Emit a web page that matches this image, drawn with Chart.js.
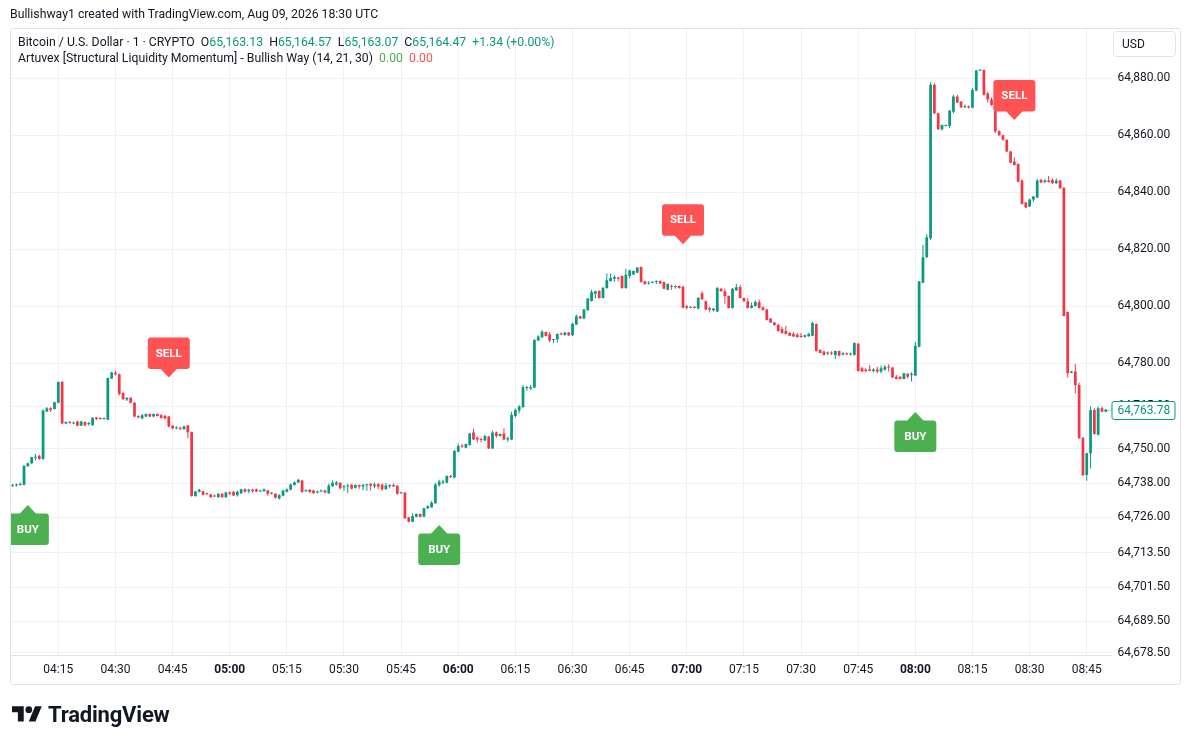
<!DOCTYPE html>
<html><head><meta charset="utf-8">
<script src="https://cdn.jsdelivr.net/npm/chart.js@4.4.1/dist/chart.umd.min.js"></script>
<style>
html,body{margin:0;padding:0;background:#fff;}
body{width:1191px;height:745px;position:relative;overflow:hidden;font-family:Roboto,"Noto Sans",sans-serif;color:#131722;}
#c{position:absolute;left:0;top:0;}
.t{position:absolute;white-space:nowrap;font-size:12.25px;line-height:16px;}
.g{color:#089981}
.ig{color:#4caf50}
.ir{color:#ff5252}
#usd{position:absolute;left:1113px;top:31px;border:1px solid #e0e3eb;border-radius:4px;font-size:12px;line-height:24px;padding-left:8px;box-sizing:border-box;width:63px;height:26px;}
#logo{position:absolute;left:11.7px;top:703.3px;width:30.2px;height:23.5px;}
#logotext{position:absolute;left:48px;top:703.8px;font-size:22px;line-height:22px;font-weight:700;white-space:nowrap;letter-spacing:-0.2px;}
</style></head><body>
<canvas id="c" width="1191" height="745"></canvas>
<div class="t" style="left:10px;top:6px">Bullishway1 created with TradingView.com, Aug 09, 2026 18:30 UTC</div>
<div class="t" style="left:18px;top:34px">Bitcoin / U.S. Dollar · 1 · CRYPTO&nbsp; O<span class="g">65,163.13</span>&nbsp; H<span class="g">65,164.57</span>&nbsp; L<span class="g">65,163.07</span>&nbsp; C<span class="g">65,164.47</span>&nbsp; <span class="g">+1.34 (+0.00%)</span></div>
<div class="t" style="left:18px;top:50px">Artuvex [Structural Liquidity Momentum] - Bullish Way (14, 21, 30)&nbsp; <span class="ig">0.00</span>&nbsp; <span class="ir">0.00</span></div>
<div id="usd">USD</div>
<svg id="logo" viewBox="0 0 36 28"><path fill="#131722" d="M14 22H7V11H0V4h14v18zM28 22h-8l7.5-18h8L28 22z"/><circle fill="#131722" cx="20" cy="8" r="4"/></svg>
<div id="logotext">TradingView</div>
<script>
// ---- time categories (1-minute slots) ----
const startMinutes = 4 * 60 + 3;   // 04:03
const slotCount = 289;             // 04:03 .. 08:51
const categories = [];
for (let k = 0; k < slotCount; k++) {
  const t = startMinutes + k;
  categories.push(String(Math.floor(t / 60)).padStart(2, '0') + ':' + String(t % 60).padStart(2, '0'));
}
const xTickLabels = ['04:15','04:30','04:45','05:00','05:15','05:30','05:45','06:00','06:15','06:30','06:45','07:00','07:15','07:30','07:45','08:00','08:15','08:30','08:45'];
const xBoldLabels = ['05:00','06:00','07:00','08:00'];
const yTicks = [64880, 64860, 64840, 64820, 64800, 64780, 64765, 64750, 64738, 64726, 64713.5, 64701.5, 64689.5, 64678.5];

// ---- OHLC series (04:03 .. 08:50) ----
const opens = [
64737.0,64737.1,64737.3,64737.4,64743.9,64744.9,64746.9,64747.6,64746.4,64763.1,64764.2,64764.0,
64766.2,64773.4,64758.9,64759.4,64758.9,64759.6,64758.1,64759.4,64758.7,64758.3,64761.0,64760.8,
64760.5,64760.2,64774.7,64776.7,64776.2,64769.6,64767.3,64767.9,64766.2,64761.5,64760.6,64761.3,
64762.2,64761.3,64762.2,64761.8,64761.6,64761.3,64758.1,64757.1,64757.3,64756.9,64758.2,64755.8,
64733.4,64734.9,64735.1,64734.4,64734.0,64733.5,64733.0,64734.2,64733.0,64734.7,64734.9,64733.7,
64734.4,64735.8,64735.1,64735.6,64735.8,64735.0,64735.1,64735.4,64734.6,64734.2,64732.6,64733.5,
64734.9,64735.6,64737.3,64738.2,64738.9,64735.1,64735.6,64735.4,64734.7,64735.0,64735.4,64734.4,
64736.9,64737.5,64738.1,64736.5,64736.8,64737.4,64736.3,64737.3,64736.8,64737.2,64737.7,64736.9,
64737.6,64737.4,64735.8,64736.9,64737.3,64737.0,64734.4,64734.6,64726.0,64724.4,64726.2,64727.1,
64726.2,64729.1,64729.5,64730.9,64737.3,64738.1,64738.1,64740.5,64739.9,64749.0,64751.1,64750.4,
64751.3,64755.7,64753.9,64753.4,64752.9,64754.3,64750.1,64755.7,64754.5,64755.4,64753.3,64753.3,
64761.5,64763.4,64764.6,64771.3,64771.2,64771.5,64788.0,64789.1,64791.0,64790.2,64788.2,64788.4,
64790.4,64789.9,64790.8,64789.8,64793.6,64796.5,64795.7,64798.6,64801.9,64804.4,64805.4,64802.9,
64806.4,64808.9,64809.7,64810.1,64810.6,64806.4,64810.6,64811.2,64811.8,64813.8,64808.8,64808.0,
64808.3,64808.5,64808.9,64808.5,64805.8,64807.1,64806.8,64807.1,64806.9,64800.1,64799.5,64799.8,
64799.2,64804.6,64801.8,64799.4,64798.6,64798.2,64806.2,64805.3,64803.6,64799.4,64805.6,64806.8,
64802.9,64801.8,64799.4,64800.1,64801.5,64799.7,64798.9,64795.7,64794.3,64793.4,64792.0,64791.3,
64790.7,64790.3,64790.1,64789.7,64789.3,64789.5,64789.7,64793.8,64784.7,64784.1,64783.4,64783.7,
64782.9,64784.3,64783.1,64783.5,64783.1,64782.9,64786.9,64778.3,64777.7,64777.9,64777.3,64777.8,
64777.1,64777.7,64778.8,64778.5,64775.3,64775.3,64774.5,64776.3,64775.9,64775.7,64785.8,64808.3,
64817.2,64823.9,64877.7,64867.7,64862.1,64863.3,64863.3,64868.3,64873.6,64871.8,64869.8,64870.1,
64869.7,64875.7,64882.7,64882.9,64874.7,64872.6,64870.6,64861.5,64860.0,64858.4,64854.3,64850.8,
64849.9,64844.1,64836.4,64835.0,64837.5,64838.2,64844.3,64843.6,64844.1,64844.3,64843.2,64844.1,
64841.6,64798.0,64776.7,64777.1,64772.4,64753.9,64740.8,64748.4,64763.6,64754.9,64764.2,64763.0
];
const highs = [
64737.6,64737.8,64738.2,64744.3,64745.1,64747.2,64748.2,64747.8,64763.9,64764.7,64764.6,64766.5,
64773.6,64773.8,64759.6,64759.7,64759.5,64759.8,64759.8,64759.6,64759.4,64761.1,64761.2,64761.1,
64761.0,64775.0,64777.0,64777.4,64776.4,64769.8,64768.2,64768.1,64766.4,64761.8,64762.2,64762.4,
64762.4,64762.4,64762.4,64762.2,64761.8,64761.5,64758.3,64757.9,64757.7,64758.1,64758.4,64756.0,
64735.2,64736.0,64735.3,64734.6,64734.2,64734.0,64734.4,64734.4,64734.9,64735.1,64735.1,64735.4,
64736.0,64736.2,64736.0,64736.0,64736.1,64735.6,64736.1,64735.6,64734.8,64734.4,64734.1,64735.6,
64736.1,64737.7,64738.5,64739.4,64739.1,64735.8,64735.8,64735.6,64735.4,64735.7,64735.6,64737.7,
64738.9,64738.7,64738.3,64737.3,64737.7,64737.6,64737.5,64737.5,64737.6,64737.7,64737.9,64738.2,
64738.0,64737.8,64737.9,64737.6,64737.8,64737.2,64734.8,64734.8,64726.2,64727.4,64727.3,64727.3,
64729.3,64730.1,64731.7,64738.1,64739.1,64739.1,64740.7,64740.8,64749.6,64751.9,64751.7,64751.9,
64755.6,64757.0,64754.3,64753.9,64754.9,64754.5,64756.3,64756.1,64755.4,64757.2,64754.3,64763.0,
64764.1,64765.4,64772.4,64772.0,64772.4,64788.4,64789.8,64791.7,64791.2,64791.0,64788.6,64790.5,
64790.8,64791.0,64791.0,64794.2,64797.1,64796.7,64799.1,64802.9,64805.8,64805.5,64805.6,64806.7,
64811.5,64811.5,64810.9,64810.3,64810.8,64813.2,64812.8,64812.6,64813.8,64814.0,64809.0,64808.8,
64808.7,64809.1,64809.1,64808.7,64808.0,64807.6,64807.4,64807.3,64807.1,64800.4,64800.0,64800.0,
64803.3,64805.3,64802.0,64799.8,64799.4,64806.7,64806.4,64806.2,64803.8,64806.4,64807.9,64807.6,
64803.1,64802.9,64801.3,64802.0,64802.4,64799.9,64799.1,64795.9,64794.5,64794.0,64792.8,64793.1,
64790.9,64791.0,64790.6,64790.6,64790.1,64790.7,64794.5,64794.0,64784.9,64784.3,64784.1,64784.2,
64784.5,64784.5,64784.0,64783.8,64783.8,64787.3,64787.1,64778.8,64778.3,64779.4,64778.3,64778.8,
64779.2,64779.4,64779.7,64778.7,64775.9,64775.5,64776.7,64776.5,64776.9,64787.6,64808.9,64821.5,
64825.4,64878.6,64878.2,64867.9,64863.8,64863.7,64868.9,64874.2,64874.2,64872.0,64870.8,64870.5,
64876.5,64882.9,64883.2,64883.1,64875.3,64873.3,64870.8,64861.7,64860.2,64858.6,64854.5,64852.3,
64850.1,64844.6,64836.6,64837.7,64838.7,64844.7,64844.8,64844.7,64845.7,64844.9,64844.8,64844.3,
64841.8,64798.2,64777.3,64779.8,64773.2,64754.1,64748.6,64764.8,64764.2,64764.8,64764.8,64764.0
];
const lows = [
64736.6,64736.8,64737.0,64737.1,64743.7,64744.7,64746.0,64746.2,64746.2,64762.9,64762.9,64763.8,
64766.0,64758.7,64758.7,64758.8,64758.6,64758.0,64758.0,64757.9,64758.1,64758.1,64760.1,64760.2,
64760.3,64760.0,64774.5,64775.7,64768.7,64767.2,64766.8,64766.0,64761.1,64760.6,64760.4,64761.1,
64761.1,64761.1,64761.3,64760.6,64760.4,64757.6,64756.9,64756.9,64756.5,64756.7,64753.8,64733.2,
64733.2,64734.7,64733.7,64733.7,64732.8,64733.1,64732.8,64732.8,64732.8,64733.7,64733.4,64733.3,
64734.2,64734.7,64734.4,64734.7,64734.8,64734.9,64734.9,64733.5,64734.0,64732.6,64732.2,64733.3,
64734.7,64735.4,64737.1,64738.0,64734.6,64734.9,64734.6,64734.2,64734.3,64734.8,64734.4,64734.2,
64736.7,64737.0,64735.7,64735.3,64734.5,64735.8,64736.1,64736.0,64735.5,64735.3,64735.5,64736.2,
64735.8,64735.3,64735.6,64736.2,64736.6,64733.9,64734.2,64725.4,64724.2,64724.2,64726.0,64726.0,
64726.0,64728.9,64729.3,64730.7,64736.7,64737.6,64737.9,64739.8,64739.7,64748.8,64750.3,64750.2,
64751.1,64753.1,64752.2,64752.2,64752.7,64749.9,64749.9,64753.9,64754.3,64753.1,64752.5,64753.1,
64761.0,64762.5,64764.4,64770.4,64770.6,64771.3,64787.8,64788.9,64789.4,64787.4,64787.0,64787.2,
64789.8,64789.7,64789.6,64789.6,64793.4,64795.5,64795.5,64798.4,64801.7,64802.7,64802.7,64802.7,
64806.2,64808.7,64808.5,64808.8,64806.2,64806.2,64809.7,64811.0,64811.6,64808.3,64807.6,64807.6,
64808.1,64807.8,64807.8,64806.0,64805.6,64805.7,64806.2,64806.2,64799.3,64798.9,64799.3,64799.2,
64799.0,64802.3,64798.7,64797.8,64798.2,64798.0,64805.1,64800.9,64799.2,64799.2,64805.4,64802.7,
64801.6,64799.2,64799.2,64799.9,64799.2,64798.5,64795.0,64794.1,64793.2,64791.1,64790.4,64790.1,
64789.5,64789.2,64789.0,64789.0,64789.0,64789.3,64789.5,64784.1,64783.4,64782.7,64782.9,64782.9,
64781.5,64782.5,64782.7,64782.9,64782.7,64782.7,64777.1,64776.9,64776.9,64777.2,64776.9,64776.5,
64776.5,64777.5,64777.1,64774.8,64774.3,64774.3,64774.3,64774.7,64773.6,64775.5,64785.6,64808.1,
64817.0,64823.3,64867.5,64861.9,64861.6,64863.1,64862.5,64867.7,64871.3,64869.6,64869.6,64869.4,
64869.5,64875.5,64882.5,64874.0,64871.5,64870.4,64860.7,64859.8,64858.2,64854.1,64850.2,64849.4,
64843.5,64835.7,64834.4,64834.8,64836.7,64838.0,64843.2,64843.2,64843.4,64843.0,64843.0,64841.2,
64796.4,64775.0,64776.5,64769.5,64753.5,64740.5,64738.8,64743.1,64755.0,64754.7,64762.8,64762.8
];
const closes = [
64737.3,64737.4,64737.6,64744.0,64744.9,64747.0,64747.2,64746.4,64763.4,64764.2,64763.6,64766.3,
64773.4,64758.9,64759.4,64759.1,64759.2,64758.1,64759.6,64758.3,64759.0,64760.9,64760.5,64760.5,
64760.8,64774.8,64776.8,64776.2,64769.2,64767.4,64767.8,64766.2,64761.3,64761.1,64761.8,64762.2,
64761.3,64762.2,64761.5,64760.8,64760.6,64757.8,64757.1,64757.4,64757.0,64757.9,64755.8,64733.4,
64735.0,64735.6,64733.9,64734.1,64733.0,64733.3,64734.2,64733.0,64734.7,64734.2,64733.6,64734.9,
64735.8,64734.9,64735.6,64735.1,64735.0,64735.3,64735.8,64734.2,64734.2,64732.8,64733.7,64735.4,
64735.8,64737.5,64738.3,64739.1,64734.8,64735.5,64734.8,64734.4,64735.0,64735.4,64734.7,64737.1,
64738.1,64738.2,64736.2,64736.8,64737.1,64736.0,64737.3,64736.8,64737.4,64737.5,64737.0,64737.5,
64736.8,64735.8,64737.1,64737.3,64736.8,64734.2,64734.6,64725.6,64724.4,64726.4,64727.1,64726.2,
64729.1,64729.9,64731.1,64737.5,64738.5,64738.5,64740.5,64740.0,64749.2,64751.0,64750.8,64751.7,
64755.4,64753.3,64753.3,64753.1,64754.5,64750.1,64755.7,64754.5,64755.2,64753.3,64753.7,64761.9,
64763.6,64764.8,64771.6,64771.6,64771.6,64788.2,64789.4,64791.1,64789.6,64788.0,64788.4,64790.3,
64790.1,64790.8,64789.8,64793.9,64796.5,64795.7,64798.9,64802.7,64805.0,64805.3,64802.9,64806.5,
64809.1,64809.9,64810.3,64809.7,64806.4,64811.1,64812.6,64812.4,64813.6,64808.5,64807.8,64808.3,
64808.5,64808.9,64808.0,64806.2,64807.8,64806.9,64807.0,64806.4,64799.5,64799.5,64799.8,64799.4,
64802.9,64802.5,64798.9,64798.9,64799.2,64806.5,64805.3,64803.6,64799.4,64806.2,64806.7,64802.9,
64801.8,64799.4,64800.3,64801.5,64799.4,64798.7,64795.2,64794.3,64793.4,64791.3,64790.6,64790.3,
64789.7,64789.4,64789.2,64789.2,64789.8,64790.3,64794.1,64784.3,64783.6,64782.9,64783.7,64783.4,
64784.3,64782.7,64783.5,64783.1,64783.4,64787.1,64777.3,64777.1,64777.3,64777.4,64777.8,64777.1,
64778.3,64778.8,64778.5,64775.0,64774.5,64774.5,64776.5,64775.3,64776.3,64786.2,64808.7,64817.2,
64824.2,64877.7,64867.7,64862.1,64863.6,64863.5,64868.7,64873.6,64871.5,64869.8,64870.1,64869.7,
64875.9,64882.7,64882.9,64874.2,64872.6,64870.6,64861.3,64860.0,64858.4,64854.3,64850.4,64849.6,
64843.7,64835.9,64834.7,64837.5,64838.5,64844.1,64843.4,64844.1,64843.6,64843.2,64844.1,64841.4,
64796.6,64776.5,64777.1,64772.4,64753.7,64740.7,64748.4,64763.6,64755.2,64764.2,64763.0,64763.78
];
const lastPrice = 64763.78;

// ---- indicator signals (time, arrow-tip price) ----
const buyTimes = ['04:07', '05:55', '08:00'];
const buyPrices = [64730.3, 64723.3, 64762.9];
const sellTimes = ['04:44', '06:59', '08:26'];
const sellPrices = [64775.0, 64821.75, 64865.4];

// ---- styles ----
const UP = '#089981', DOWN = '#f23645';
const GRID = '#f0f0f2';
const candleColors = closes.map((c, i) => c >= opens[i] ? UP : DOWN);
const fmt = v => Number(v).toLocaleString('en-US', {minimumFractionDigits: 2, maximumFractionDigits: 2});

function roundRect(ctx, x, y, w, h, r) {
  ctx.beginPath();
  ctx.moveTo(x + r, y);
  ctx.lineTo(x + w - r, y); ctx.quadraticCurveTo(x + w, y, x + w, y + r);
  ctx.lineTo(x + w, y + h - r); ctx.quadraticCurveTo(x + w, y + h, x + w - r, y + h);
  ctx.lineTo(x + r, y + h); ctx.quadraticCurveTo(x, y + h, x, y + h - r);
  ctx.lineTo(x, y + r); ctx.quadraticCurveTo(x, y, x + r, y);
  ctx.closePath();
}

const bgPlugin = {
  id: 'bg',
  beforeDraw(chart) {
    const c = chart.ctx;
    c.save(); c.fillStyle = '#fff'; c.fillRect(0, 0, chart.width, chart.height); c.restore();
  }
};

const overlayPlugin = {
  id: 'overlay',
  afterDatasetsDraw(chart) {
    const c = chart.ctx, xs = chart.scales.x, ys = chart.scales.y, a = chart.chartArea;
    c.save();
    c.beginPath(); c.rect(a.left, a.top, a.right - a.left, a.bottom - a.top); c.clip();
    const BW = 42, BH = 31.5, AH = 8.5, AW = 8.5;
    const drawSig = (t, p, isBuy) => {
      const x = xs.getPixelForValue(categories.indexOf(t));
      const y = ys.getPixelForValue(p);
      c.fillStyle = isBuy ? '#4caf50' : '#ff5252';
      const by = isBuy ? y + AH : y - AH - BH;
      roundRect(c, x - BW / 2, by, BW, BH, 3); c.fill();
      c.beginPath();
      if (isBuy) { c.moveTo(x, y); c.lineTo(x + AW, y + AH + 0.5); c.lineTo(x - AW, y + AH + 0.5); }
      else { c.moveTo(x, y); c.lineTo(x + AW, y - AH - 0.5); c.lineTo(x - AW, y - AH - 0.5); }
      c.closePath(); c.fill();
      c.fillStyle = '#fff';
      c.font = 'bold 11.5px Roboto';
      c.textAlign = 'center'; c.textBaseline = 'middle';
      c.fillText(isBuy ? 'BUY' : 'SELL', x, by + BH / 2 + 0.5);
    };
    buyTimes.forEach((t, i) => drawSig(t, buyPrices[i], true));
    sellTimes.forEach((t, i) => drawSig(t, sellPrices[i], false));
    c.restore();

    // last price dotted line + label
    const py = Math.round(ys.getPixelForValue(lastPrice)) + 0.5;
    const lx = xs.getPixelForValue(closes.length - 1) + 2;
    c.save();
    c.strokeStyle = UP; c.lineWidth = 1; c.setLineDash([1, 2]);
    c.beginPath(); c.moveTo(lx, py); c.lineTo(a.right, py); c.stroke();
    c.setLineDash([]);
    c.fillStyle = '#fff';
    roundRect(c, a.right + 0.5, py - 9, 63, 18, 2); c.fill();
    c.strokeStyle = UP; c.stroke();
    c.fillStyle = UP; c.font = '12px Roboto'; c.textAlign = 'left'; c.textBaseline = 'middle';
    c.fillText(fmt(lastPrice), a.right + 6, py + 0.5);
    c.restore();
  },
  afterDraw(chart) {
    const c = chart.ctx, a = chart.chartArea;
    c.save();
    c.strokeStyle = '#e0e3eb'; c.lineWidth = 1;
    c.beginPath(); c.moveTo(10, Math.round(a.bottom) + 0.5); c.lineTo(a.right, Math.round(a.bottom) + 0.5); c.stroke();
    roundRect(c, 10.5, 28.5, 1170, 656, 2); c.stroke();
    c.restore();
  }
};

new Chart(document.getElementById('c'), {
  type: 'bar',
  data: {
    labels: categories,
    datasets: [
      { label: 'body', data: opens.map((o, i) => [o, closes[i]]), backgroundColor: candleColors,
        barPercentage: 0.72, categoryPercentage: 1, grouped: false, minBarLength: 1, borderWidth: 0 },
      { label: 'wick', data: lows.map((l, i) => [l, highs[i]]), backgroundColor: candleColors,
        barThickness: 1, grouped: false, borderWidth: 0, inflateAmount: 0 }
    ]
  },
  options: {
    responsive: false, animation: false, devicePixelRatio: 1,
    layout: { padding: { left: 10.7, right: 10, top: 29, bottom: 60 } },
    plugins: { legend: { display: false }, tooltip: { enabled: false } },
    scales: {
      x: {
        type: 'category', offset: true,
        grid: { offset: false, drawTicks: false,
          color: ctx => (xTickLabels.includes(categories[ctx.index]) ? GRID : 'rgba(0,0,0,0)') },
        border: { display: false },
        ticks: { autoSkip: false, maxRotation: 0, minRotation: 0, padding: 8, color: '#131722',
          font: ctx => ({ family: 'Roboto', size: 12, weight: xBoldLabels.includes(categories[ctx.index]) ? 'bold' : 'normal' }),
          callback: (v, i) => (xTickLabels.includes(categories[i]) ? categories[i] : '') },
        afterFit: s => { s.height = 30; }
      },
      y: {
        position: 'right', min: 64677.65, max: 64897.3,
        grid: { color: GRID, drawTicks: false },
        border: { display: false },
        ticks: { padding: 6, color: '#131722', font: { family: 'Roboto', size: 12 }, callback: v => fmt(v) },
        afterBuildTicks: s => { s.ticks = yTicks.map(v => ({ value: v })); },
        afterFit: s => { s.width = 69.5; }
      }
    }
  },
  plugins: [bgPlugin, overlayPlugin]
});
</script>
</body></html>
